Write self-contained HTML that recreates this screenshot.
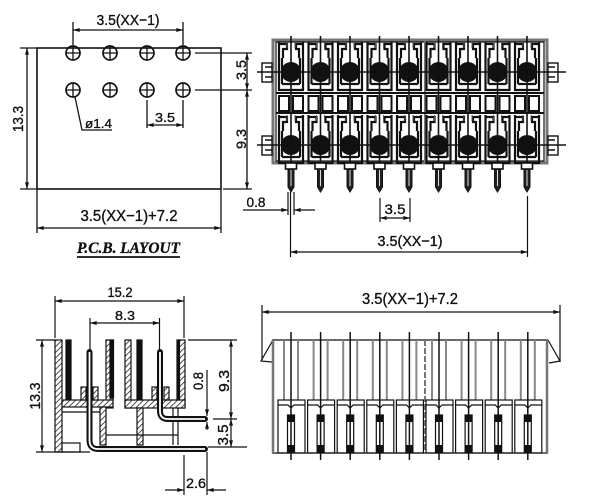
<!DOCTYPE html>
<html><head><meta charset="utf-8"><style>
html,body{margin:0;padding:0;background:#fff;width:600px;height:500px;overflow:hidden}
svg{display:block}
text{font-family:"Liberation Sans Narrow","Liberation Sans",sans-serif;fill:#111;stroke:#111;stroke-width:0.35}
</style></head><body>
<svg width="600" height="500" viewBox="0 0 600 500" xmlns="http://www.w3.org/2000/svg">
<defs>
 <marker id="a" viewBox="0 0 10 6" refX="10" refY="3" markerWidth="7" markerHeight="4" markerUnits="userSpaceOnUse" orient="auto-start-reverse"><path d="M0,0 L10,3 L0,6 z" fill="#111"/></marker>
 <pattern id="h" width="4" height="4" patternUnits="userSpaceOnUse" patternTransform="rotate(45)"><rect width="4" height="4" fill="#fff"/><line x1="0" y1="0" x2="0" y2="4" stroke="#222" stroke-width="1.6"/></pattern>
 <g id="c">
  <g fill="none" stroke="#111" stroke-width="2.2">
   <path d="M-12,-30 V19 M12,-30 V19 M-12,-28 H-4 V-23 H-8 V-14 M12,-28 H5 V-23 H8 V-14 M-9,-14 V12 M9,-14 V12 M-9,12 H9 M-12,18 H12"/>
  </g>
  <path d="M-4,-30 V-24 M4,-30 V-24" stroke="#555" stroke-width="1"/>
  <circle r="10" fill="#111"/>
  <path d="M-10,0 H10 M0,-10 V10" stroke="#555" stroke-width="0.8"/>
 </g>
 <g id="m" fill="none" stroke="#111" stroke-width="2">
  <rect x="-12" y="96" width="10" height="15"/>
  <rect x="2" y="96" width="10" height="15"/>
 </g>
 <g id="p">
  <rect x="-5.5" y="163" width="11" height="6" fill="#fff" stroke="#111" stroke-width="1.6"/>
  <path d="M-3,169 V187 L0,192 L3,187 V169 Z" fill="#222" stroke="#111" stroke-width="1"/>
  <line x1="0" y1="170" x2="0" y2="186" stroke="#ddd" stroke-width="1"/>
 </g>
 <g id="b">
  <line x1="-7" y1="340" x2="-7" y2="400" stroke="#888" stroke-width="2"/>
  <line x1="7" y1="340" x2="7" y2="400" stroke="#888" stroke-width="2"/>
  <g fill="none" stroke="#111" stroke-width="1.2">
   <rect x="-13" y="400" width="27" height="53"/>
   <path d="M-13,405 H-3 L0,408 L3,405 H14"/>
   <rect x="-3.5" y="415" width="7" height="37"/>
  </g>
  <rect x="-3.5" y="415" width="7" height="7" fill="#111"/>
  <rect x="-3.5" y="445" width="7" height="7" fill="#111"/>
  <line x1="0" y1="332" x2="0" y2="460" stroke="#111" stroke-width="1.5"/>
 </g>
</defs>

<!-- ============ TOP-LEFT : PCB LAYOUT ============ -->
<g stroke="#111" stroke-width="1.3" fill="none">
 <rect x="37" y="48" width="184" height="141" stroke-width="1.6"/>
 <g stroke-width="1.7">
  <circle cx="73" cy="53" r="7"/><circle cx="110" cy="53" r="7"/><circle cx="147" cy="53" r="7"/><circle cx="183" cy="53" r="7"/>
  <circle cx="73" cy="90" r="7"/><circle cx="110" cy="90" r="7"/><circle cx="147" cy="90" r="7"/><circle cx="183" cy="90" r="7"/>
 </g>
 <path d="M66,53 H80 M73,46 V60 M103,53 H117 M110,46 V60 M140,53 H154 M147,46 V60 M176,53 H190 M183,46 V60
          M66,90 H80 M73,83 V97 M103,90 H117 M110,83 V97 M140,90 H154 M147,83 V97 M176,90 H190 M183,83 V97"/>
 <path d="M73,45 V22 M183,45 V22"/>
 <line x1="73" y1="30" x2="183" y2="30" marker-start="url(#a)" marker-end="url(#a)"/>
 <path d="M20,48 H37 M20,189 H37"/>
 <line x1="27" y1="48" x2="27" y2="189" marker-start="url(#a)" marker-end="url(#a)"/>
 <path d="M195,53 H252 M195,90 H252 M223,189 H252"/>
 <line x1="247" y1="53" x2="247" y2="90" marker-start="url(#a)" marker-end="url(#a)"/>
 <line x1="247" y1="90" x2="247" y2="189" marker-start="url(#a)" marker-end="url(#a)"/>
 <path d="M37,189 V233 M221,189 V233"/>
 <line x1="37" y1="228" x2="221" y2="228" marker-start="url(#a)" marker-end="url(#a)"/>
 <path d="M75,97 L82,130 H112"/>
 <path d="M147,100 V128 M183,100 V128"/>
 <line x1="147" y1="125" x2="183" y2="125" marker-start="url(#a)" marker-end="url(#a)"/>
 <line x1="77" y1="257" x2="180" y2="257" stroke-width="1.8"/>
</g>
<text x="128" y="25" font-size="15" text-anchor="middle" textLength="63" lengthAdjust="spacingAndGlyphs">3.5(XX−1)</text>
<text transform="translate(23,119) rotate(-90)" font-size="15" text-anchor="middle" textLength="26" lengthAdjust="spacingAndGlyphs">13.3</text>
<text transform="translate(246,70) rotate(-90)" font-size="14" text-anchor="middle" textLength="20" lengthAdjust="spacingAndGlyphs">3.5</text>
<text transform="translate(246,139) rotate(-90)" font-size="14" text-anchor="middle" textLength="20" lengthAdjust="spacingAndGlyphs">9.3</text>
<text x="129" y="221" font-size="16" text-anchor="middle" textLength="97" lengthAdjust="spacingAndGlyphs">3.5(XX−1)+7.2</text>
<text x="98.5" y="128" font-size="13" text-anchor="middle" textLength="27" lengthAdjust="spacingAndGlyphs">ø1.4</text>
<text x="165" y="122" font-size="13" text-anchor="middle" textLength="20" lengthAdjust="spacingAndGlyphs">3.5</text>
<text x="128.5" y="253" font-size="16" font-weight="bold" font-style="italic" text-anchor="middle" textLength="103" lengthAdjust="spacingAndGlyphs" style="font-family:'Liberation Serif',serif">P.C.B.  LAYOUT</text>

<!-- ============ TOP-RIGHT : TOP VIEW ============ -->
<g>
 <rect x="273" y="40" width="274" height="123" fill="#fff" stroke="#777" stroke-width="3"/>
 <rect x="276" y="42" width="268" height="119" fill="none" stroke="#111" stroke-width="1.2"/>
 <line x1="425" y1="40" x2="425" y2="163" stroke="#777" stroke-width="2"/>
 <path d="M276,93 H544 M276,113 H544" stroke="#111" stroke-width="2" fill="none"/>
 <use href="#m" x="291"/><use href="#m" x="320.5"/><use href="#m" x="350"/><use href="#m" x="379.5"/><use href="#m" x="409"/><use href="#m" x="438.5"/><use href="#m" x="468"/><use href="#m" x="497.5"/><use href="#m" x="527"/>
 <use href="#c" x="291" y="72"/><use href="#c" x="320.5" y="72"/><use href="#c" x="350" y="72"/><use href="#c" x="379.5" y="72"/><use href="#c" x="409" y="72"/><use href="#c" x="438.5" y="72"/><use href="#c" x="468" y="72"/><use href="#c" x="497.5" y="72"/><use href="#c" x="527" y="72"/>
 <use href="#c" x="291" y="145"/><use href="#c" x="320.5" y="145"/><use href="#c" x="350" y="145"/><use href="#c" x="379.5" y="145"/><use href="#c" x="409" y="145"/><use href="#c" x="438.5" y="145"/><use href="#c" x="468" y="145"/><use href="#c" x="497.5" y="145"/><use href="#c" x="527" y="145"/>
 <path d="M291,36 V163 M320.5,36 V163 M350,36 V163 M379.5,36 V163 M409,36 V163 M438.5,36 V163 M468,36 V163 M497.5,36 V163 M527,36 V163" stroke="#111" stroke-width="1.6"/>
 <path d="M257,72 H566 M257,145 H566" stroke="#111" stroke-width="1.5"/>
 <g fill="none" stroke="#111" stroke-width="1.4">
  <rect x="262" y="63" width="10" height="19"/><rect x="262" y="136" width="10" height="19"/>
  <rect x="548" y="63" width="10" height="19"/><rect x="548" y="136" width="10" height="19"/>
  <path d="M265,67 H272 M265,77 H272 M265,140 H272 M265,150 H272 M548,67 H555 M548,77 H555 M548,140 H555 M548,150 H555"/>
 </g>
 <use href="#p" x="291"/><use href="#p" x="320.5"/><use href="#p" x="350"/><use href="#p" x="379.5"/><use href="#p" x="409"/><use href="#p" x="438.5"/><use href="#p" x="468"/><use href="#p" x="497.5"/><use href="#p" x="527"/>
</g>
<g stroke="#111" stroke-width="1.2" fill="none">
 <path d="M288,192 V215 M294,192 V215 M290.5,192 V257 M527.5,196 V257 M380,198 V222 M410,198 V222"/>
 <line x1="243" y1="210" x2="288" y2="210" marker-end="url(#a)"/>
 <line x1="315" y1="210" x2="294" y2="210" marker-end="url(#a)"/>
 <line x1="380" y1="218" x2="410" y2="218" marker-start="url(#a)" marker-end="url(#a)"/>
 <line x1="290.5" y1="252" x2="527.5" y2="252" marker-start="url(#a)" marker-end="url(#a)"/>
</g>
<text x="256" y="207" font-size="14" text-anchor="middle" textLength="19" lengthAdjust="spacingAndGlyphs">0.8</text>
<text x="395" y="214" font-size="14" text-anchor="middle" textLength="21" lengthAdjust="spacingAndGlyphs">3.5</text>
<text x="410" y="246" font-size="15" text-anchor="middle" textLength="65" lengthAdjust="spacingAndGlyphs">3.5(XX−1)</text>

<!-- ============ BOTTOM-LEFT : SIDE VIEW ============ -->
<g stroke="#111" stroke-width="1.2">
 <rect x="55" y="340" width="7" height="112" fill="url(#h)"/>
 <rect x="66" y="340" width="5" height="60" fill="#111"/>
 <rect x="106" y="340" width="7" height="68" fill="url(#h)"/>
 <rect x="110" y="340" width="3.5" height="58" fill="#111"/>
 <rect x="125" y="340" width="6" height="68" fill="url(#h)"/>
 <rect x="137" y="340" width="5" height="60" fill="#111"/>
 <rect x="178" y="340" width="7" height="68" fill="url(#h)"/>
 <rect x="177" y="340" width="2.5" height="62" fill="#111"/>
 <rect x="62" y="400" width="51" height="7" fill="url(#h)"/>
 <rect x="125" y="400" width="60" height="8" fill="url(#h)"/>
 <rect x="81" y="387" width="5" height="13" fill="url(#h)"/>
 <rect x="93" y="387" width="5" height="13" fill="url(#h)"/>
 <rect x="152" y="387" width="5" height="13" fill="url(#h)"/>
 <rect x="164" y="387" width="5" height="13" fill="url(#h)"/>
 <rect x="100" y="407" width="6" height="38" fill="url(#h)"/>
 <rect x="137" y="408" width="6" height="37" fill="url(#h)"/>
 <rect x="62" y="443" width="18" height="9" fill="#fff"/>
 <path d="M62,412 H100 M106,435 H178 M173,408 V445 M178,408 V445 M55,452 H90" fill="none"/>
</g>
<path d="M89.5,352 V440 Q89.5,449 98,449 H205" fill="none" stroke="#111" stroke-width="6" stroke-linecap="round"/>
<path d="M89.5,352 V440 Q89.5,449 98,449 H205" fill="none" stroke="#fff" stroke-width="1.8"/>
<path d="M160,352 V411 Q160,419 168,419 H205" fill="none" stroke="#111" stroke-width="6" stroke-linecap="round"/>
<path d="M160,352 V411 Q160,419 168,419 H205" fill="none" stroke="#fff" stroke-width="1.8"/>
<g stroke="#111" stroke-width="1.2" fill="none">
 <path d="M55,296 V338 M184,296 V338 M90,318 V350 M159.5,318 V350"/>
 <line x1="55" y1="301" x2="184" y2="301" marker-start="url(#a)" marker-end="url(#a)"/>
 <line x1="90" y1="323" x2="159.5" y2="323" marker-start="url(#a)" marker-end="url(#a)"/>
 <path d="M36,340 H55 M36,452 H55"/>
 <line x1="42" y1="340" x2="42" y2="452" marker-start="url(#a)" marker-end="url(#a)"/>
 <path d="M188,340 H237 M213,419 H237 M208,447 H247"/>
 <line x1="231" y1="340" x2="231" y2="419" marker-start="url(#a)" marker-end="url(#a)"/>
 <line x1="231" y1="419" x2="231" y2="447" marker-start="url(#a)" marker-end="url(#a)"/>
 <line x1="207" y1="370" x2="207" y2="416" marker-end="url(#a)"/>
 <line x1="207" y1="430" x2="207" y2="422" marker-end="url(#a)"/>
 <path d="M184,455 V495 M207,452 V495"/>
 <line x1="165" y1="490" x2="184" y2="490" marker-end="url(#a)"/>
 <line x1="226" y1="490" x2="207" y2="490" marker-end="url(#a)"/>
</g>
<text x="120" y="297" font-size="14" text-anchor="middle" textLength="25" lengthAdjust="spacingAndGlyphs">15.2</text>
<text x="125" y="320" font-size="13" text-anchor="middle" textLength="20" lengthAdjust="spacingAndGlyphs">8.3</text>
<text transform="translate(40,396) rotate(-90)" font-size="15" text-anchor="middle" textLength="27" lengthAdjust="spacingAndGlyphs">13.3</text>
<text transform="translate(203,381) rotate(-90)" font-size="14" text-anchor="middle" textLength="18" lengthAdjust="spacingAndGlyphs">0.8</text>
<text transform="translate(229,381) rotate(-90)" font-size="15" text-anchor="middle" textLength="22" lengthAdjust="spacingAndGlyphs">9.3</text>
<text transform="translate(228,435) rotate(-90)" font-size="15" text-anchor="middle" textLength="21" lengthAdjust="spacingAndGlyphs">3.5</text>
<text x="196" y="488" font-size="14" text-anchor="middle" textLength="20" lengthAdjust="spacingAndGlyphs">2.6</text>

<!-- ============ BOTTOM-RIGHT : FRONT VIEW ============ -->
<g stroke="#111" stroke-width="1.2" fill="none">
 <path d="M262,305 V360 M560,305 V362"/>
 <line x1="262" y1="312" x2="560" y2="312" marker-start="url(#a)" marker-end="url(#a)"/>
 <path d="M272,340 H548"/>
 <path d="M273,340 L261,361 L272,362"/>
 <path d="M548,340 L560,361 L549,363"/>
 <path d="M272,453 H548"/>
</g>
<line x1="273" y1="340" x2="273" y2="453" stroke="#777" stroke-width="2.5"/>
<line x1="547" y1="340" x2="547" y2="453" stroke="#777" stroke-width="2.5"/>
<line x1="425" y1="340" x2="425" y2="453" stroke="#777" stroke-width="2" stroke-dasharray="6,2"/>
<use href="#b" x="291"/><use href="#b" x="320.6"/><use href="#b" x="350.2"/><use href="#b" x="379.8"/><use href="#b" x="409.4"/><use href="#b" x="439"/><use href="#b" x="468.6"/><use href="#b" x="498.2"/><use href="#b" x="527.8"/>
<text x="410" y="304" font-size="16" text-anchor="middle" textLength="96" lengthAdjust="spacingAndGlyphs">3.5(XX−1)+7.2</text>
</svg>
</body></html>
